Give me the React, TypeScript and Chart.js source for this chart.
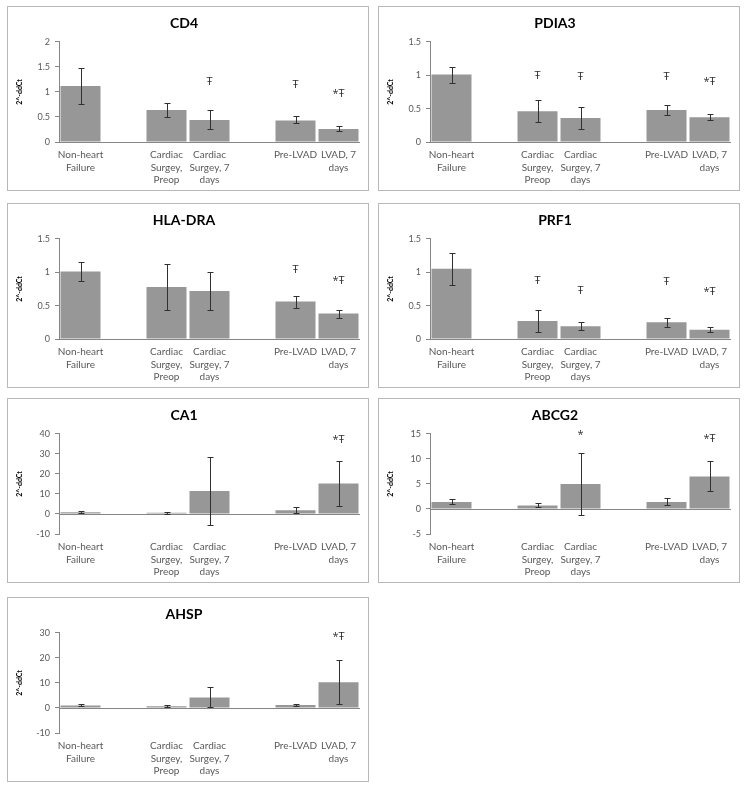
import React, { useEffect, useRef } from "react";
import { Chart, registerables } from "chart.js";
Chart.register(...registerables);

const categories: (string | string[])[] = [
  ["Non-heart", "Failure"],
  "",
  ["Cardiac", "Surgey,", "Preop"],
  ["Cardiac", "Surgey, 7", "days"],
  "",
  "Pre-LVAD",
  ["LVAD, 7", "days"],
];

const cd4Mean = [1.12, null, 0.64, 0.44, null, 0.43, 0.26];
const cd4Low = [0.76, null, 0.5, 0.26, null, 0.37, 0.21];
const cd4High = [1.47, null, 0.78, 0.63, null, 0.51, 0.31];
const cd4Marks = ["", "", "", "Ŧ", "", "Ŧ", "*Ŧ"];
const cd4MarkY = [null, null, null, 1.2, null, 1.15, 0.96];

const pdia3Mean = [1.01, null, 0.46, 0.36, null, 0.48, 0.37];
const pdia3Low = [0.88, null, 0.3, 0.19, null, 0.4, 0.33];
const pdia3High = [1.13, null, 0.63, 0.52, null, 0.55, 0.42];
const pdia3Marks = ["", "", "Ŧ", "Ŧ", "", "Ŧ", "*Ŧ"];
const pdia3MarkY = [null, null, 0.99, 0.97, null, 0.97, 0.9];

const hlaMean = [1.01, null, 0.78, 0.72, null, 0.56, 0.38];
const hlaLow = [0.87, null, 0.43, 0.43, null, 0.47, 0.31];
const hlaHigh = [1.15, null, 1.13, 1.0, null, 0.64, 0.44];
const hlaMarks = ["", "", "", "", "", "Ŧ", "*Ŧ"];
const hlaMarkY = [null, null, null, null, null, 1.04, 0.87];

const prf1Mean = [1.05, null, 0.27, 0.19, null, 0.25, 0.14];
const prf1Low = [0.81, null, 0.11, 0.13, null, 0.18, 0.1];
const prf1High = [1.28, null, 0.44, 0.26, null, 0.32, 0.18];
const prf1Marks = ["", "", "Ŧ", "Ŧ", "", "Ŧ", "*Ŧ"];
const prf1MarkY = [null, null, 0.87, 0.72, null, 0.85, 0.7];

const ca1Mean = [0.9, null, 0.6, 11.5, null, 1.8, 15.2];
const ca1Low = [0.4, null, 0.2, -5.6, null, 0.3, 4.0];
const ca1High = [1.4, null, 1.0, 28.4, null, 3.3, 26.5];
const ca1Marks = ["", "", "", "", "", "", "*Ŧ"];
const ca1MarkY = [null, null, null, null, null, null, 37];

const abcg2Mean = [1.4, null, 0.7, 5.0, null, 1.4, 6.5];
const abcg2Low = [0.9, null, 0.3, -1.2, null, 0.7, 3.6];
const abcg2High = [1.9, null, 1.2, 11.1, null, 2.1, 9.6];
const abcg2Marks = ["", "", "", "*", "", "", "*Ŧ"];
const abcg2MarkY = [null, null, null, 14.7, null, null, 13.9];

const ahspMean = [1.0, null, 0.7, 4.2, null, 1.2, 10.3];
const ahspLow = [0.6, null, 0.3, 0.4, null, 0.9, 1.5];
const ahspHigh = [1.4, null, 1.0, 8.4, null, 1.6, 19.1];
const ahspMarks = ["", "", "", "", "", "", "*Ŧ"];
const ahspMarkY = [null, null, null, null, null, null, 28.4];

type Panel = {
  title: string;
  mean: (number | null)[];
  low: (number | null)[];
  high: (number | null)[];
  marks: string[];
  markY: (number | null)[];
  min: number;
  max: number;
  step: number;
  left: number;
  top: number;
};

const panels: Panel[] = [
  { title: "CD4", mean: cd4Mean, low: cd4Low, high: cd4High, marks: cd4Marks, markY: cd4MarkY, min: 0, max: 2, step: 0.5, left: 7, top: 6 },
  { title: "PDIA3", mean: pdia3Mean, low: pdia3Low, high: pdia3High, marks: pdia3Marks, markY: pdia3MarkY, min: 0, max: 1.5, step: 0.5, left: 378, top: 6 },
  { title: "HLA-DRA", mean: hlaMean, low: hlaLow, high: hlaHigh, marks: hlaMarks, markY: hlaMarkY, min: 0, max: 1.5, step: 0.5, left: 7, top: 203 },
  { title: "PRF1", mean: prf1Mean, low: prf1Low, high: prf1High, marks: prf1Marks, markY: prf1MarkY, min: 0, max: 1.5, step: 0.5, left: 378, top: 203 },
  { title: "CA1", mean: ca1Mean, low: ca1Low, high: ca1High, marks: ca1Marks, markY: ca1MarkY, min: -10, max: 40, step: 10, left: 7, top: 398 },
  { title: "ABCG2", mean: abcg2Mean, low: abcg2Low, high: abcg2High, marks: abcg2Marks, markY: abcg2MarkY, min: -5, max: 15, step: 5, left: 378, top: 398 },
  { title: "AHSP", mean: ahspMean, low: ahspLow, high: ahspHigh, marks: ahspMarks, markY: ahspMarkY, min: -10, max: 30, step: 10, left: 7, top: 597 },
];

const FONT = "Lato, 'Open Sans', sans-serif";
const TEXT = "#595959";
const AXIS = "#868686";

function ChartPanel({ p }: { p: Panel }) {
  const ref = useRef<HTMLCanvasElement>(null);
  useEffect(() => {
    if (!ref.current) return;
    const overlay = {
      id: "overlay",
      beforeDatasetsDraw(chart: any) {
        const { ctx, chartArea, scales } = chart;
        const y0 = Math.round(scales.y.getPixelForValue(0)) + 0.5;
        ctx.save();
        ctx.strokeStyle = AXIS;
        ctx.lineWidth = 1;
        ctx.beginPath();
        ctx.moveTo(chartArea.left, y0);
        ctx.lineTo(chartArea.right, y0);
        ctx.stroke();
        ctx.restore();
      },
      afterDatasetsDraw(chart: any) {
        const { ctx, scales } = chart;
        ctx.save();
        ctx.strokeStyle = "#303030";
        ctx.lineWidth = 1;
        p.mean.forEach((m, i) => {
          const lo = p.low[i];
          const hi = p.high[i];
          if (m === null || lo === null || hi === null) return;
          const x = Math.round(scales.x.getPixelForValue(i)) + 0.5;
          const yl = Math.round(scales.y.getPixelForValue(lo)) + 0.5;
          const yh = Math.round(scales.y.getPixelForValue(hi)) + 0.5;
          ctx.beginPath();
          ctx.moveTo(x, yl);
          ctx.lineTo(x, yh);
          ctx.moveTo(x - 3, yl);
          ctx.lineTo(x + 3, yl);
          ctx.moveTo(x - 3, yh);
          ctx.lineTo(x + 3, yh);
          ctx.stroke();
        });
        ctx.fillStyle = "#303030";
        ctx.font = `11px 'Open Sans', sans-serif`;
        ctx.textAlign = "center";
        ctx.textBaseline = "middle";
        p.marks.forEach((t, i) => {
          const v = p.markY[i];
          if (!t || v === null) return;
          ctx.fillText(t, scales.x.getPixelForValue(i), scales.y.getPixelForValue(v));
        });
        ctx.restore();
      },
    };
    const chart = new Chart(ref.current, {
      type: "bar",
      data: {
        labels: categories as any,
        datasets: [
          {
            data: p.mean as any,
            backgroundColor: "#979797",
            borderWidth: 0,
            categoryPercentage: 1,
            barPercentage: 0.93,
          },
        ],
      },
      options: {
        animation: false,
        responsive: false,
        maintainAspectRatio: false,
        layout: { padding: { left: 0, right: 8, top: 0, bottom: 0 } },
        plugins: {
          legend: { display: false },
          tooltip: { enabled: false },
          title: {
            display: true,
            text: p.title,
            color: "#000",
            font: { family: FONT, size: 14, weight: "bold" },
            padding: { top: 8, bottom: 10 },
          },
        },
        scales: {
          x: {
            grid: { display: false, drawTicks: false },
            border: { display: false },
            ticks: {
              color: TEXT,
              font: { family: FONT, size: 10, lineHeight: 1.25 },
              padding: 7,
              autoSkip: false,
              maxRotation: 0,
              minRotation: 0,
            },
            afterFit: (s: any) => {
              s.height = 48;
            },
          },
          y: {
            min: p.min,
            max: p.max,
            border: { display: true, color: AXIS },
            grid: { drawOnChartArea: false, drawTicks: true, tickLength: 4, color: AXIS },
            ticks: {
              stepSize: p.step,
              color: TEXT,
              font: { family: FONT, size: 9 },
              padding: 5,
              callback: (v: any) => String(Number(v)),
            },
            title: {
              display: true,
              text: "2^-ddCt",
              color: "#000",
              font: { family: FONT, size: 7, weight: "bold" },
              padding: { top: 8, bottom: 0 },
            },
            afterFit: (s: any) => {
              s.width = 51;
            },
          },
        },
      },
      plugins: [overlay],
    });
    return () => chart.destroy();
  }, [p]);
  return (
    <div
      style={{
        position: "absolute",
        left: p.left,
        top: p.top,
        width: 360,
        height: 183,
        border: "1px solid #b8b8b8",
        background: "#fff",
      }}
    >
      <canvas ref={ref} width={360} height={183} style={{ display: "block" }} />
    </div>
  );
}

export default function App() {
  return (
    <div style={{ position: "absolute", left: 0, top: 0, width: 748, height: 787, background: "#fff" }}>
      {panels.map((p) => (
        <ChartPanel key={p.title} p={p} />
      ))}
    </div>
  );
}
